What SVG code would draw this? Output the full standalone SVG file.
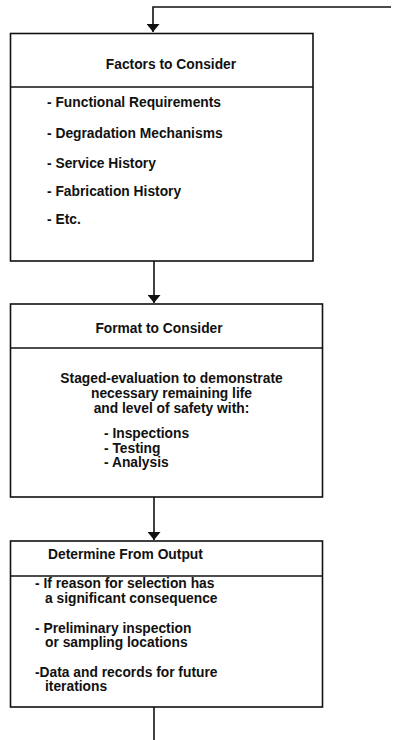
<svg xmlns="http://www.w3.org/2000/svg" width="394" height="740" viewBox="0 0 394 740">
<style>
.box{fill:#fff;stroke:#111;stroke-width:1.6}
.div{stroke:#111;stroke-width:1.6}
.conn{fill:none;stroke:#111;stroke-width:1.6}
text{font-family:"Liberation Sans",Arial,Helvetica,sans-serif;font-weight:bold;font-size:13.8px;fill:#111}
.c{text-anchor:middle}
</style>
<defs>
<marker id="ah" viewBox="0 0 8 13" refX="8" refY="6.5" markerWidth="8" markerHeight="13" markerUnits="userSpaceOnUse" orient="auto">
<path d="M0,0 L8,6.5 L0,13 Z" fill="#111"/>
</marker>
</defs>
<g id="connectors">
<polyline class="conn" points="391,7 153,7 153,32" marker-end="url(#ah)"/>
<line class="conn" x1="154" y1="261" x2="154" y2="303" marker-end="url(#ah)"/>
<line class="conn" x1="154" y1="497" x2="154" y2="540" marker-end="url(#ah)"/>
<line class="conn" x1="154" y1="707" x2="154" y2="740"/>
</g>
<g id="factors">
<rect class="box" x="10.5" y="33.5" width="302.5" height="227.5"/>
<line class="div" x1="10.5" y1="87" x2="313" y2="87"/>
<text class="c" x="171" y="69">Factors to Consider</text>
<text x="47" y="107">- Functional Requirements</text>
<text x="47" y="138">- Degradation Mechanisms</text>
<text x="47" y="168">- Service History</text>
<text x="47" y="196">- Fabrication History</text>
<text x="47" y="224">- Etc.</text>
</g>
<g id="format">
<rect class="box" x="10.5" y="304" width="312" height="193"/>
<line class="div" x1="10.5" y1="348" x2="322.5" y2="348"/>
<text class="c" x="159" y="333">Format to Consider</text>
<text class="c" x="171.5" y="383">Staged-evaluation to demonstrate</text>
<text class="c" x="171.5" y="398">necessary remaining life</text>
<text class="c" x="171.5" y="413">and level of safety with:</text>
<text x="104" y="438">- Inspections</text>
<text x="104" y="452.5">- Testing</text>
<text x="104" y="467">- Analysis</text>
</g>
<g id="determine">
<rect class="box" x="10.5" y="541" width="312" height="166"/>
<line class="div" x1="10.5" y1="576" x2="322.5" y2="576"/>
<text x="48" y="559">Determine From Output</text>
<text x="35" y="588">- If reason for selection has</text>
<text x="45" y="603">a significant consequence</text>
<text x="35" y="633">- Preliminary inspection</text>
<text x="45" y="647">or sampling locations</text>
<text x="35" y="677">-Data and records for future</text>
<text x="45" y="691">iterations</text>
</g>
</svg>
